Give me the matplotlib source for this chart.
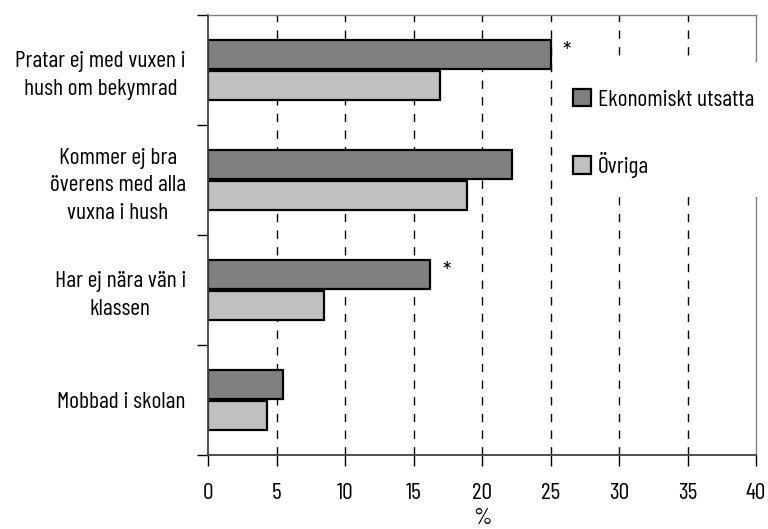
import matplotlib
matplotlib.use('Agg')
import matplotlib.pyplot as plt
from matplotlib.patches import Rectangle
import numpy as np

plt.rcParams['font.family'] = ['Barlow Condensed', 'Archivo Narrow', 'DejaVu Sans']

# data, top to bottom
categories = ['Pratar ej med vuxen i\nhush om bekymrad',
              'Kommer ej bra\növerens med alla\nvuxna i hush',
              'Har ej nära vän i\nklassen',
              'Mobbad i skolan']
utsatta = [25.0, 22.2, 16.2, 5.5]
ovriga = [16.9, 18.9, 8.5, 4.3]
signif = [True, False, True, False]
series_names = ['Ekonomiskt utsatta', 'Övriga']
xticks = [0, 5, 10, 15, 20, 25, 30, 35, 40]

W, H = 768, 529
fig = plt.figure(figsize=(W / 100, H / 100), dpi=100)
ax = fig.add_axes([208 / W, 74 / H, 548 / W, 440 / H])

n = len(categories)
ypos = np.arange(n)[::-1]  # top category gets highest y
h = 0.27
off = 0.14

# dashed grid
for xv in xticks[1:-1]:
    ax.axvline(xv, color='black', lw=1, ls=(0, (6, 6)), zorder=0)

b1 = ax.barh(ypos + off, utsatta, height=h, color='#808080', edgecolor='black',
             linewidth=1.6, label=series_names[0], zorder=2)
b2 = ax.barh(ypos - off, ovriga, height=h, color='#c0c0c0', edgecolor='black',
             linewidth=1.6, label=series_names[1], zorder=2)

# * = significant difference
for i in range(n):
    if signif[i]:
        ax.text(utsatta[i] + 0.9, ypos[i] + off + 0.02, '*', fontsize=17,
                ha='left', va='center')

ax.set_xlim(0, 40)
ax.set_ylim(-0.5, n - 0.5)

ax.set_xticks(xticks)
ax.set_xticklabels([str(t) for t in xticks], fontsize=17)
ax.tick_params(axis='x', length=8, width=1, pad=12, direction='out')

# ticks on category boundaries, labels on centers
ax.set_yticks(np.arange(-0.5, n, 1.0))
ax.set_yticklabels([])
ax.tick_params(axis='y', which='major', length=8, width=1, direction='out')
ax.set_yticks(ypos, minor=True)
ax.set_yticklabels(categories, minor=True, fontsize=17, multialignment='center',
                   linespacing=1.4)
ax.tick_params(axis='y', which='minor', length=0, pad=16)

ax.set_xlabel('%', fontsize=17, labelpad=3)

for s in ['top', 'right']:
    ax.spines[s].set_color('#808080')
    ax.spines[s].set_linewidth(1)
for s in ['left', 'bottom']:
    ax.spines[s].set_color('#404040')
    ax.spines[s].set_linewidth(1.3)

# white legend area, covers grid and right frame line
fig.patches.append(Rectangle((566 / W, 1 - 197 / H), (W - 566) / W, 135 / H,
                             transform=fig.transFigure, facecolor='white',
                             edgecolor='none', zorder=3))
fig.legend(handles=[b1, b2], labels=series_names, loc='upper left',
           bbox_to_anchor=(573 / W, 1 - 89 / H), fontsize=17, frameon=False,
           borderpad=0, borderaxespad=0, labelspacing=1.75, handlelength=0.75,
           handleheight=0.75, handletextpad=0.3)

fig.savefig('out.png', dpi=100)
